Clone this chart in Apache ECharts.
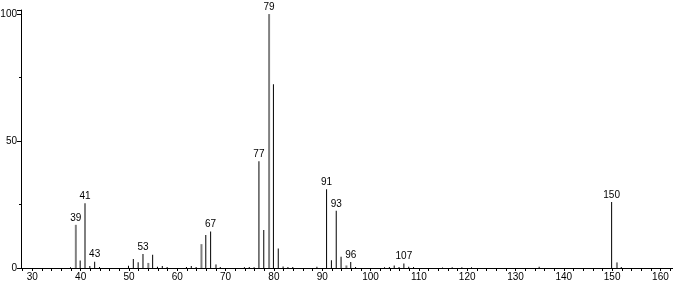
<!DOCTYPE html>
<html>
<head>
<meta charset="utf-8">
<script src="https://cdn.jsdelivr.net/npm/echarts@6/dist/echarts.min.js"></script>
<style>
html,body{margin:0;padding:0;background:#fff;}
#c{width:673px;height:285px;}
</style>
</head>
<body>
<div id="c"></div>
<script>
// m/z values and relative intensities (%)
const mz = [38,39,40,41,42,43,44,50,51,52,53,54,55,56,57,58,62,63,64,65,66,67,68,69,74,75,76,77,78,79,80,81,82,83,84,89,91,92,93,94,95,96,97,103,104,105,106,107,108,109,115,117,119,121,135,150,151,152];
const intensity = [0.3,17,3,25.5,0.8,2.5,0.4,0.9,3.5,2.3,5.5,2,5.2,0.5,0.8,0.4,0.4,0.8,0.4,9.4,13,14.4,1.4,0.4,0.3,0.4,0.3,42,15,100,72.4,7.7,0.6,0.4,0.4,0.5,31,3.1,22.5,4.4,1,2.4,0.4,0.3,0.4,1,0.4,1.8,0.5,0.4,0.2,0.3,0.3,0.3,0.5,26,2.2,0.4];
const labeledPeaks = [39,41,43,53,67,77,79,91,93,96,107,150];
const xTickValues = [28,30,32,34,36,38,40,42,44,46,48,50,52,54,56,58,60,62,64,66,68,70,72,74,76,78,80,82,84,86,88,90,92,94,96,98,100,102,104,106,108,110,112,114,116,118,120,122,124,126,128,130,132,134,136,138,140,142,144,146,148,150,152,154,156,158,160,162];
const xLabelValues = [30,40,50,60,70,80,90,100,110,120,130,140,150,160];
const yLabelValues = [0,50,100];

// rendering style: peaks that appear grey (anti-aliased) in the reference
const greyPeaks = [39,54,65,68,79,95,151];

const blackData = [], greyData = [];
mz.forEach((m, i) => {
  const item = {
    value: [m, intensity[i]],
    label: {show: labeledPeaks.includes(m)}
  };
  if (greyPeaks.includes(m)) greyData.push(item); else blackData.push(item);
});

const FONT = 'Liberation Sans';
const labelCfg = {
  position: 'top', distance: 2, color: '#000', fontFamily: FONT, fontSize: 10,
  formatter: p => String(p.value[0])
};

const chart = echarts.init(document.getElementById('c'), null, {renderer: 'canvas'});
chart.setOption({
  animation: false,
  backgroundColor: '#fff',
  grid: {left: 21, right: 0, top: 10, bottom: 17, containLabel: false, outerBoundsMode: 'none'},
  xAxis: {
    type: 'value', min: 27.65, max: 162.6,
    axisLine: {show: true, lineStyle: {color: '#000', width: 1}},
    axisTick: {show: true, length: 3, lineStyle: {color: '#000'}, customValues: xTickValues},
    axisLabel: {show: true, customValues: xLabelValues, color: '#000', fontFamily: FONT, fontSize: 10, margin: 4},
    splitLine: {show: false}
  },
  yAxis: {
    type: 'value', min: 0, max: 101.6, interval: 50,
    axisLine: {show: true, lineStyle: {color: '#000', width: 1}},
    axisTick: {show: true, length: 4, lineStyle: {color: '#000'}},
    minorTick: {show: true, splitNumber: 2, length: 2, lineStyle: {color: '#000'}},
    axisLabel: {show: true, customValues: yLabelValues, color: '#000', fontFamily: FONT, fontSize: 10, margin: 4},
    splitLine: {show: false}
  },
  series: [
    {type: 'bar', data: blackData, barWidth: 1, itemStyle: {color: '#000'}, label: labelCfg, barGap: '-100%'},
    {type: 'bar', data: greyData, barWidth: 2, itemStyle: {color: '#808080'}, label: labelCfg, barGap: '-100%'}
  ]
});
</script>
</body>
</html>
